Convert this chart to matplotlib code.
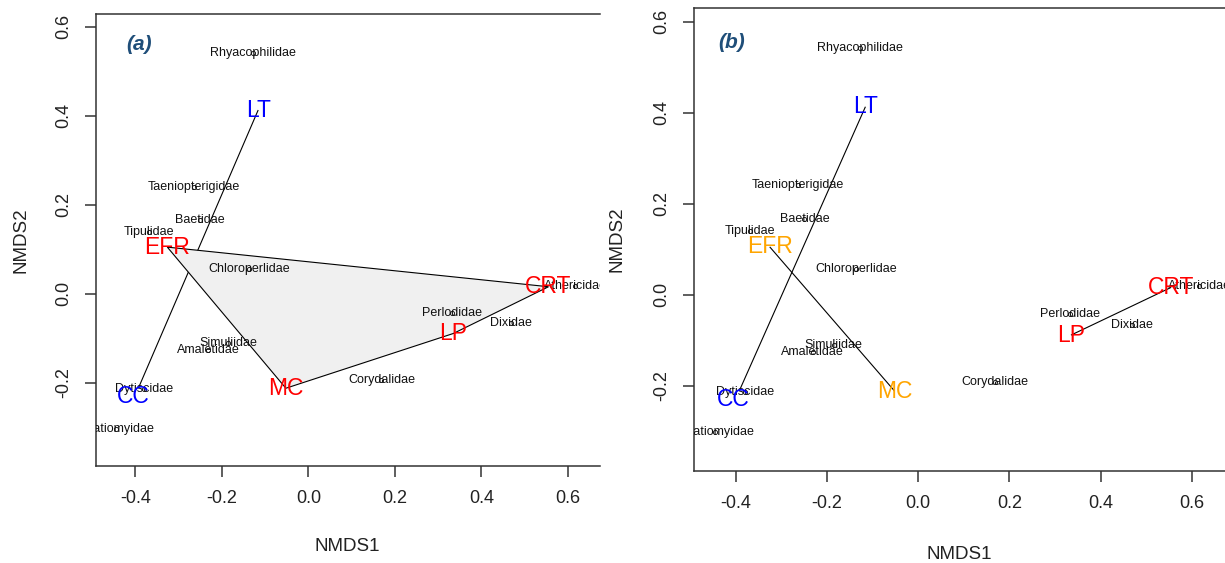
import matplotlib.pyplot as plt

plt.rcParams['font.family'] = ['Liberation Sans', 'DejaVu Sans']
plt.rcParams['axes.unicode_minus'] = False

# Site scores (NMDS1, NMDS2)
sites = ["LT", "EFR", "CRT", "LP", "MC", "CC"]
site_x = [-0.116, -0.326, 0.555, 0.335, -0.052, -0.393]
site_y = [0.413, 0.105, 0.016, -0.089, -0.212, -0.212]

# Species scores
species = ["Rhyacophilidae", "Taeniopterigidae", "Baetidae", "Tipulidae",
           "Chloroperlidae", "Athericidae", "Perlodidae", "Dixidae",
           "Simuliidae", "Amaletidae", "Corydalidae", "Dytiscidae",
           "Stratiomyidae"]
sp_x = [-0.128, -0.265, -0.250, -0.369, -0.137, 0.617, 0.333, 0.468,
        -0.186, -0.232, 0.169, -0.380, -0.445]
sp_y = [0.541, 0.240, 0.166, 0.140, 0.056, 0.018, -0.043, -0.066,
        -0.111, -0.127, -0.193, -0.214, -0.303]

# Groups (hull order) and site colours for each panel
groups_a = [["LT", "CC"], ["EFR", "CRT", "LP", "MC"]]
colors_a = {"LT": "#0000FF", "CC": "#0000FF", "EFR": "#FF0000",
            "CRT": "#FF0000", "LP": "#FF0000", "MC": "#FF0000"}
groups_b = [["LT", "CC"], ["EFR", "MC"], ["LP", "CRT"]]
colors_b = {"LT": "#0000FF", "CC": "#0000FF", "EFR": "#FFA500",
            "MC": "#FFA500", "LP": "#FF0000", "CRT": "#FF0000"}

ticks = [-0.4, -0.2, 0.0, 0.2, 0.4, 0.6]
yticks = [-0.2, 0.0, 0.2, 0.4, 0.6]

W, H = 1225, 563
fig = plt.figure(figsize=(W / 100, H / 100), dpi=100)
ax_a = fig.add_axes([95.5 / W, 1 - 465.7 / H, (600 - 95.5) / W, (465.7 - 14.3) / H])
ax_b = fig.add_axes([694.3 / W, 1 - 470.7 / H, (W - 694.3) / W, (470.7 - 8) / H])

pos = {s: (x, y) for s, x, y in zip(sites, site_x, site_y)}
nudge = {"CC": (-4, -6)}


def draw(ax, groups, colors, xlim, ylim, tag, tag_xy):
    ax.set_xlim(*xlim)
    ax.set_ylim(*ylim)
    for g in groups:
        xs = [pos[s][0] for s in g]
        ys = [pos[s][1] for s in g]
        ax.fill(xs, ys, facecolor="#f0f0f0", edgecolor="black", lw=0.8, zorder=1)
    ax.plot(sp_x, sp_y, 'o', ms=3, mfc='none', mec='black', mew=0.6, zorder=2)
    for name, x, y in zip(species, sp_x, sp_y):
        ax.text(x, y, name, fontsize=9, ha='center', va='center',
                color='#111111', clip_on=True, zorder=3)
    for s in sites:
        dx, dy = nudge.get(s, (0, 0))
        ax.annotate(s, pos[s], xytext=(dx, dy), textcoords='offset points',
                    fontsize=16.5, ha='center', va='center', color=colors[s],
                    annotation_clip=False, zorder=4)
    ax.set_xticks(ticks)
    ax.set_yticks(yticks)
    ax.set_xticklabels([f"{t:.1f}" for t in ticks])
    ax.set_yticklabels([f"{t:.1f}" for t in yticks], rotation=90, va='center')
    ax.spines['right'].set_visible(False)
    for sp in ['left', 'top', 'bottom']:
        ax.spines[sp].set_color('#333333')
        ax.spines[sp].set_linewidth(1.1)
    ax.tick_params(axis='x', direction='out', length=8, width=1.1,
                   color='#333333', labelsize=13, pad=9.5, labelcolor='#222222')
    ax.tick_params(axis='y', direction='out', length=8, width=1.1,
                   color='#333333', labelsize=13, pad=9, labelcolor='#222222')
    ax.set_xlabel("NMDS1", fontsize=13.5, color='#222222', va='top')
    ax.set_ylabel("NMDS2", fontsize=13.5, color='#222222')
    fig.text(tag_xy[0] / W, 1 - tag_xy[1] / H, tag, fontsize=15,
             fontweight='bold', fontstyle='italic', color='#1f4e79',
             ha='center', va='center')


draw(ax_a, groups_a, colors_a, (-0.492, 0.674), (-0.386, 0.628), "(a)", (139, 45))
draw(ax_b, groups_b, colors_b, (-0.4915, 0.673), (-0.387, 0.630), "(b)", (732, 43))

ax_a.xaxis.set_label_coords(0.5, -0.16)
ax_b.xaxis.set_label_coords(0.5, -0.162)
ax_a.yaxis.set_label_coords(-0.131, 0.5)
ax_b.yaxis.set_label_coords(-0.129, 0.5)

fig.savefig("out.png", dpi=100)
